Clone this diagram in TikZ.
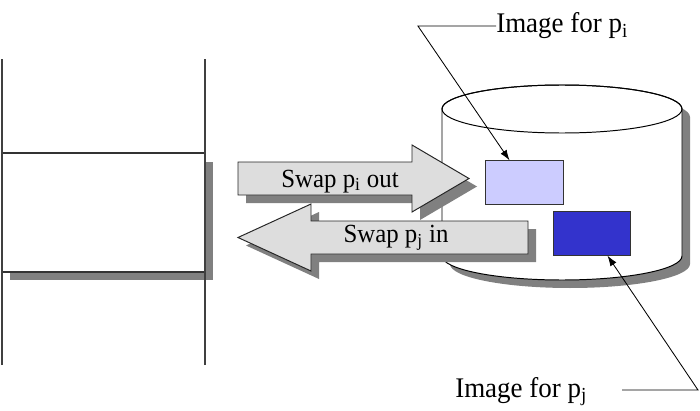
\documentclass[tikz,border=0pt]{standalone}
\usepackage{fontspec}
\setmainfont{Liberation Serif}
\usepackage{tikz}
\usetikzlibrary{arrows.meta,positioning,calc}
\definecolor{imglight}{HTML}{CCCCFF}
\definecolor{imgdark}{HTML}{3333CC}
\definecolor{arrowgrey}{HTML}{DDDDDD}
\definecolor{shadowgrey}{HTML}{808080}

\begin{document}
\begin{tikzpicture}[x=0.025cm,y=0.025cm,
    dropshade/.style={fill=shadowgrey,draw=none},
    swaparrow/.style={fill=arrowgrey,draw=black!85,line width=0.7pt},
    imgbox/.style={draw=black!80,line width=0.8pt,minimum width=1.93cm,
      minimum height=1.08cm,inner sep=0pt},
    lbl/.style={font=\fontsize{20.2}{23}\selectfont,inner sep=0pt,xscale=0.95,transform shape},
    swaptext/.style={font=\fontsize{18.6}{21}\selectfont,inner sep=0pt,anchor=base,xscale=0.95,transform shape},
    leader/.style={line width=0.6pt}]
  \useasboundingbox (0,0) rectangle (700,410);
  % memory
  \fill[dropshade] (10,130) rectangle (213,248);
  \draw[fill=white,line width=0.8pt,draw=black!80] (2,138) rectangle (205,257);
  \draw[line width=1pt,black!75] (2,45) -- (2,351) (205,45) -- (205,351);
  % disk
  \fill[dropshade,shift={(8,-8)}]
    (442,301) -- (442,154) arc[start angle=180,end angle=360,x radius=120,y radius=24]
    -- (682,301) arc[start angle=0,end angle=180,x radius=120,y radius=24] -- cycle;
  \draw[fill=white,line width=0.7pt]
    (442,301) -- (442,154) arc[start angle=180,end angle=360,x radius=120,y radius=24]
    -- (682,301) arc[start angle=0,end angle=180,x radius=120,y radius=24] -- cycle;
  \draw[line width=0.7pt] (562,301) ellipse[x radius=120,y radius=24];
  % swap arrows
  \fill[dropshade,shift={(8,-8)}] (238,215) -- (412,215) -- (412,198) -- (469,231.5)
    -- (412,265) -- (412,248) -- (238,248) -- cycle;
  \draw[swaparrow] (238,215) -- (412,215) -- (412,198) -- (469,231.5)
    -- (412,265) -- (412,248) -- (238,248) -- cycle;
  \node[swaptext] (outtxt) at (340,223) {Swap p\textsubscript{i} out};
  \fill[dropshade,shift={(8,-8)}] (528,189) -- (311,189) -- (311,206) -- (238,172.5)
    -- (311,139) -- (311,156) -- (528,156) -- cycle;
  \draw[swaparrow] (528,189) -- (311,189) -- (311,206) -- (238,172.5)
    -- (311,139) -- (311,156) -- (528,156) -- cycle;
  \node[swaptext] (intxt) at (396,167) {Swap p\textsubscript{j} in};
  % process images
  \node[imgbox,fill=imglight] (pimg) at (524.5,227.5) {};
  \node[imgbox,fill=imgdark] (qimg) at (592,176.5) {};
  % labels
  \node[lbl,anchor=base west] (ilabel) at (496,377) {Image for p\textsubscript{i}};
  \coordinate (ibend) at ([xshift=-1.95cm]ilabel.west);
  \draw[leader,-{Latex[length=2.6mm,width=1.8mm]}] (ilabel.west) -- (ibend) -- (pimg.124);
  \node[lbl,anchor=base west] (jlabel) at (455,13) {Image for p\textsubscript{j}};
  \coordinate (jstart) at (622,20);
  \coordinate (jbend) at (698,20);
  \draw[leader,-{Latex[length=2.6mm,width=1.8mm]}] (jstart) -- (jbend) -- (qimg.305);
\end{tikzpicture}
\end{document}
